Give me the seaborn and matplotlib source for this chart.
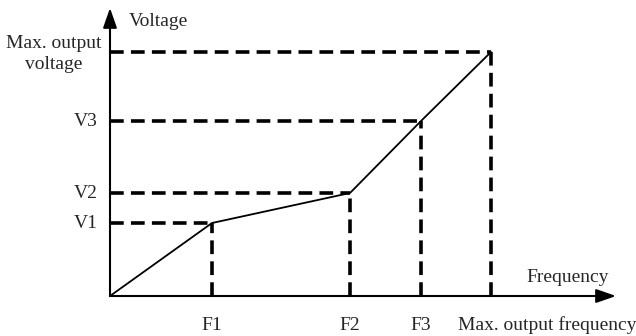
import pandas as pd
import seaborn as sns
import matplotlib.pyplot as plt

# V/F curve points (origin, F1/V1, F2/V2, F3/V3, max)
freq = [0, 102, 240, 311, 381]
volt = [0, 73, 103, 175, 244]
freq_labels = ["F1", "F2", "F3", "Max. output frequency"]
volt_labels = ["V1", "V2", "V3", "Max. output\nvoltage"]

sns.set_style("white")
plt.rcParams["font.family"] = ["Liberation Serif", "DejaVu Serif"]

df = pd.DataFrame({"Frequency": freq, "Voltage": volt})

fig = plt.figure(figsize=(6.36, 3.36), dpi=100)
ax = fig.add_axes([0, 0, 1, 1])
ax.set_xlim(-110, 526)
ax.set_ylim(-40, 296)
ax.axis("off")

# dashed guide lines
for f, v in zip(freq[1:], volt[1:]):
    ax.plot([0, f], [v, v], color="black", lw=2.6, ls=(0, (3.8, 2.0)), solid_capstyle="butt")
    ax.plot([f, f], [0, v], color="black", lw=2.6, ls=(0, (3.8, 2.0)), solid_capstyle="butt")

# the curve
sns.lineplot(data=df, x="Frequency", y="Voltage", color="black", lw=1.3, ax=ax, sort=False)
ax.axis("off")

# axes with arrows
ax.annotate("", xy=(506, 0), xytext=(0, 0),
            arrowprops=dict(arrowstyle="-|>,head_length=1.2,head_width=0.42", color="black", lw=1.5, shrinkA=0, shrinkB=0))
ax.annotate("", xy=(0, 288), xytext=(0, 0),
            arrowprops=dict(arrowstyle="-|>,head_length=1.2,head_width=0.42", color="black", lw=1.5, shrinkA=0, shrinkB=0))

fs = 14
ax.text(19, 274, "Voltage", fontsize=fs, ha="left", va="center")
ax.text(458, 18, "Frequency", fontsize=fs, ha="center", va="center")

for f, lab in zip(freq[1:-1], freq_labels[:-1]):
    ax.text(f, -29, lab, fontsize=fs, ha="center", va="center")
ax.text(437, -29, freq_labels[-1], fontsize=fs, ha="center", va="center")

for v, lab in zip(volt[1:-1], volt_labels[:-1]):
    ax.text(-12, v, lab, fontsize=fs, ha="right", va="center")
ax.text(-56, 242, volt_labels[-1], fontsize=fs, ha="center", va="center", linespacing=1.3)

fig.savefig("out.png", dpi=100)
